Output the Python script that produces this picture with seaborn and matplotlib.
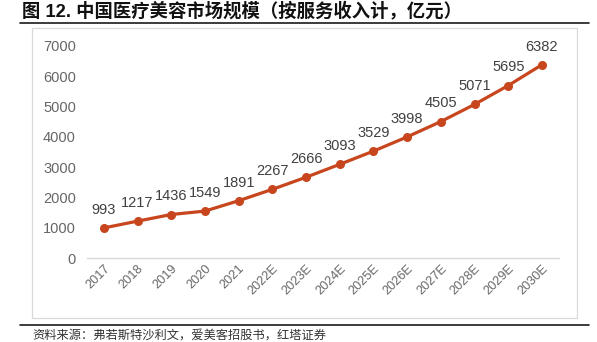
import matplotlib
matplotlib.use("Agg")
import matplotlib.pyplot as plt
from matplotlib.patches import Rectangle
from matplotlib.lines import Line2D
import seaborn as sns
import pandas as pd

years = ["2017", "2018", "2019", "2020", "2021", "2022E", "2023E", "2024E",
         "2025E", "2026E", "2027E", "2028E", "2029E", "2030E"]
market_size = [993, 1217, 1436, 1549, 1891, 2267, 2666, 3093,
               3529, 3998, 4505, 5071, 5695, 6382]
y_ticks = [0, 1000, 2000, 3000, 4000, 5000, 6000, 7000]

title = "图 12. 中国医疗美容市场规模（按服务收入计，亿元）"
source = "资料来源：弗若斯特沙利文，爱美客招股书，红塔证券"

sns.set_theme(style="white")
plt.rcParams["font.family"] = ["Liberation Sans", "Noto Sans CJK SC", "DejaVu Sans"]

df = pd.DataFrame({"year": years, "size": market_size})

fig = plt.figure(figsize=(5.97, 3.42), dpi=100)
ax = fig.add_axes([0.1457, 0.2456, 0.936 - 0.1457, 0.8655 - 0.2456])

line_color = "#C8461E"
sns.lineplot(data=df, x="year", y="size", ax=ax, sort=False, color=line_color,
             linewidth=2.3, marker="o", markersize=6.5, markeredgewidth=0,
             markeredgecolor=line_color)

ax.set_xlim(-0.5, len(years) - 0.5)
ax.set_ylim(0, 7000)
ax.set_yticks(y_ticks)
ax.set_yticklabels([str(v) for v in y_ticks], fontsize=10.5, color="#666666")
ax.set_xticks(range(len(years)))
ax.set_xticklabels(years, rotation=45, ha="right", rotation_mode="anchor",
                   fontsize=9.2, color="#666666")
ax.tick_params(axis="y", length=0, pad=8)
ax.tick_params(axis="x", length=0, pad=3)
ax.set_xlabel("")
ax.set_ylabel("")
for side in ["top", "right", "left"]:
    ax.spines[side].set_visible(False)
ax.spines["bottom"].set_color("#D9D9D9")
ax.spines["bottom"].set_linewidth(1.0)
ax.set_facecolor("none")

for i, v in enumerate(market_size):
    ax.annotate(str(v), (i, v), xytext=(0, 8), textcoords="offset points",
                ha="center", va="bottom", fontsize=10.5, color="#404040")

# chart frame
fig.patches.append(Rectangle((32 / 597, 1 - 318 / 342), (577 - 32) / 597,
                             (318 - 28) / 342, transform=fig.transFigure,
                             fill=False, edgecolor="#D9D9D9", linewidth=0.9))

# rules under title and above source
fig.add_artist(Line2D([20 / 597, 589 / 597], [1 - 23 / 342, 1 - 23 / 342],
                      transform=fig.transFigure, color="#1a1a1a", linewidth=1.2))
fig.add_artist(Line2D([20 / 597, 589 / 597], [1 - 325 / 342, 1 - 325 / 342],
                      transform=fig.transFigure, color="#1a1a1a", linewidth=1.2))

fig.text(22 / 597, 1 - 11 / 342, title, fontsize=13.2, fontweight="bold",
         color="#111111", va="center", ha="left",
         family=["Liberation Sans", "Noto Sans CJK SC"])
fig.text(32 / 597, 1 - 335 / 342, source, fontsize=8.8, color="#333333",
         va="center", ha="left", family=["Noto Sans CJK SC", "DejaVu Sans"])

fig.savefig("out.png", dpi=100, facecolor="white")
